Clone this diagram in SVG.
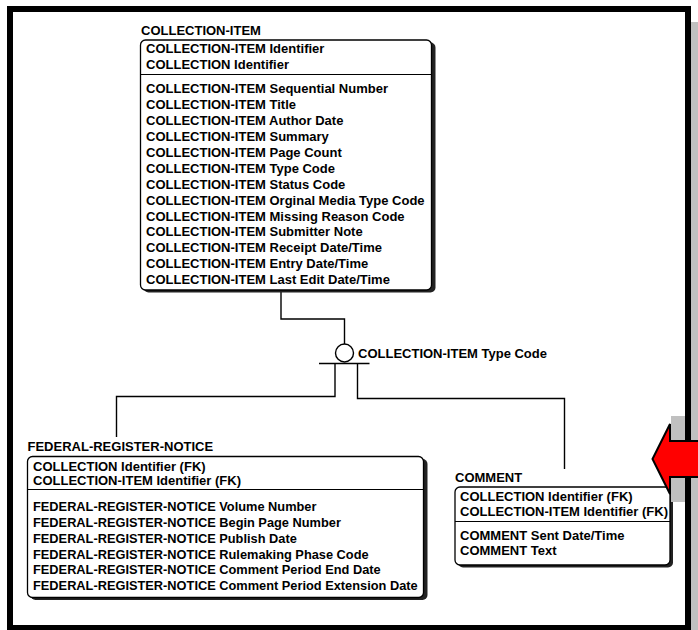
<svg xmlns="http://www.w3.org/2000/svg" width="698" height="630" viewBox="0 0 698 630">
<defs>
<style>
text{font-family:"Liberation Sans",Arial,Helvetica,sans-serif;font-weight:bold;font-size:13px;fill:#000}
.sm{font-size:12.8px}
.box{fill:#fff;stroke:#000;stroke-width:1.3}
.shadow{fill:#222}
.sep{stroke:#000;stroke-width:1.2}
.conn{fill:none;stroke:#000;stroke-width:1.4}
</style>
</defs>
<rect x="0" y="0" width="698" height="630" fill="#fff"/>
<g id="frame">
<rect x="691" y="22" width="7" height="608" fill="#c0c0c0"/>
<rect x="10" y="9" width="678" height="619" fill="none" stroke="#000" stroke-width="6"/>
</g>
<g id="connectors">
<polyline class="conn" points="281,292 281,319 344.5,319 344.5,344"/>
<circle class="conn" cx="344.5" cy="353" r="9"/>
<line class="conn" x1="319" y1="363.5" x2="369.5" y2="363.5" stroke-width="1.6"/>
<polyline class="conn" points="335,363.5 335,396.5 116.5,396.5 116.5,437"/>
<polyline class="conn" points="357.5,363.5 357.5,398.5 564.5,398.5 564.5,469"/>
<text x="358" y="357.6">COLLECTION-ITEM Type Code</text>
</g>
<g id="node-collection-item">
<text x="141" y="35">COLLECTION-ITEM</text>
<rect class="shadow" x="143.5" y="42.5" width="292" height="250" rx="5"/>
<rect class="box" x="140.5" y="40" width="291" height="250" rx="5"/>
<line class="sep" x1="140.5" y1="74.5" x2="431.5" y2="74.5"/>
<text x="146" y="53">COLLECTION-ITEM Identifier</text>
<text x="146" y="69">COLLECTION Identifier</text>
<text x="146" y="93">COLLECTION-ITEM Sequential Number</text>
<text x="146" y="109">COLLECTION-ITEM Title</text>
<text x="146" y="125">COLLECTION-ITEM Author Date</text>
<text x="146" y="141">COLLECTION-ITEM Summary</text>
<text x="146" y="156.5">COLLECTION-ITEM Page Count</text>
<text x="146" y="172.5">COLLECTION-ITEM Type Code</text>
<text x="146" y="188.5">COLLECTION-ITEM Status Code</text>
<text x="146" y="204.5">COLLECTION-ITEM Orginal Media Type Code</text>
<text x="146" y="220.5">COLLECTION-ITEM Missing Reason Code</text>
<text x="146" y="236">COLLECTION-ITEM Submitter Note</text>
<text x="146" y="252">COLLECTION-ITEM Receipt Date/Time</text>
<text x="146" y="268">COLLECTION-ITEM Entry Date/Time</text>
<text x="146" y="284">COLLECTION-ITEM Last Edit Date/Time</text>
</g>
<g id="node-federal-register-notice">
<text x="27.5" y="450.5">FEDERAL-REGISTER-NOTICE</text>
<rect class="shadow" x="30.5" y="459" width="397" height="141" rx="5"/>
<rect class="box" x="27.5" y="456.5" width="396" height="141" rx="5"/>
<line class="sep" x1="27.5" y1="489.5" x2="423.5" y2="489.5"/>
<text x="33" y="470.5">COLLECTION Identifier (FK)</text>
<text x="33" y="485">COLLECTION-ITEM Identifier (FK)</text>
<text class="sm" x="33" y="510.5">FEDERAL-REGISTER-NOTICE Volume Number</text>
<text class="sm" x="33" y="526.5">FEDERAL-REGISTER-NOTICE Begin Page Number</text>
<text class="sm" x="33" y="542.5">FEDERAL-REGISTER-NOTICE Publish Date</text>
<text class="sm" x="33" y="558.5">FEDERAL-REGISTER-NOTICE Rulemaking Phase Code</text>
<text class="sm" x="33" y="574">FEDERAL-REGISTER-NOTICE Comment Period End Date</text>
<text class="sm" x="33" y="590">FEDERAL-REGISTER-NOTICE Comment Period Extension Date</text>
</g>
<g id="node-comment">
<text x="455" y="481.5">COMMENT</text>
<rect class="shadow" x="458" y="489.5" width="215" height="78" rx="5"/>
<rect class="box" x="455" y="487" width="215" height="78" rx="5"/>
<line class="sep" x1="455" y1="521.5" x2="670" y2="521.5"/>
<text x="460" y="500.5">COLLECTION Identifier (FK)</text>
<text x="460" y="515.5">COLLECTION-ITEM Identifier (FK)</text>
<text x="460" y="540">COMMENT Sent Date/Time</text>
<text x="460" y="555">COMMENT Text</text>
</g>
<g id="arrow">
<rect x="671" y="416" width="14" height="86" fill="#c0c0c0"/>
<polygon points="652.5,459 670,424 670,441 700,441 700,477 670,477 670,494" fill="#ff0000" stroke="#000" stroke-width="2" stroke-linejoin="miter"/>
</g>
</svg>
